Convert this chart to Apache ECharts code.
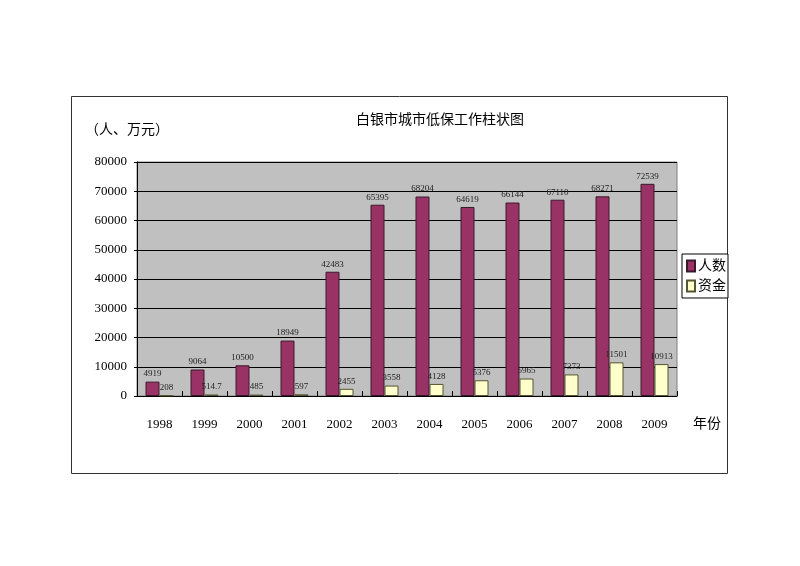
<!DOCTYPE html>
<html><head><meta charset="utf-8">
<script src="https://cdn.jsdelivr.net/npm/echarts@6/dist/echarts.min.js"></script>
<style>html,body{margin:0;padding:0;background:#fff}#c{width:800px;height:566px}</style>
</head><body><div id="c"></div>
<script>
const years = ['1998','1999','2000','2001','2002','2003','2004','2005','2006','2007','2008','2009'];
const people = [4919, 9064, 10500, 18949, 42483, 65395, 68204, 64619, 66144, 67110, 68271, 72539];
const funds = [208, 514.7, 485, 597, 2455, 3558, 4128, 5376, 5965, 7373, 11501, 10913];
const seriesNames = ['人数', '资金'];
const titleText = '白银市城市低保工作柱状图';
const unitText = '（人、万元）';
const xName = '年份';

const FONT = '"Liberation Serif", "Noto Sans CJK SC", serif';
const chart = echarts.init(document.getElementById('c'));
chart.setOption({
  animation: false,
  backgroundColor: '#fff',
  title: {
    text: titleText, left: 435, top: 108, textAlign: 'center',
    textStyle: {fontFamily: FONT, fontSize: 14, fontWeight: 'normal', color: '#000'}
  },
  legend: {
    orient: 'vertical', left: 682, top: 254,
    data: seriesNames, icon: 'rect',
    backgroundColor: '#fff', borderColor: '#000', borderWidth: 1,
    padding: [5, 2, 5, 4], itemGap: 6,
    itemWidth: 8, itemHeight: 11,
    textStyle: {fontFamily: FONT, fontSize: 14, color: '#000', padding: [0, 0, 0, -2]}
  },
  grid: {left: 137, right: 123, top: 162, bottom: 170, show: true,
    backgroundColor: '#C0C0C0', borderColor: '#808080', borderWidth: 1},
  xAxis: {
    type: 'category', data: years,
    axisLine: {lineStyle: {color: '#000', width: 1}},
    axisTick: {show: true, inside: true, length: 5, lineStyle: {color: '#000'}},
    axisLabel: {fontFamily: FONT, fontSize: 13, color: '#000', margin: 22},
  },
  yAxis: {
    type: 'value', min: 0, max: 80000, interval: 10000,
    axisLine: {show: true, lineStyle: {color: '#000'}},
    axisTick: {show: true, length: 3, lineStyle: {color: '#000'}},
    axisLabel: {fontFamily: FONT, fontSize: 13, color: '#000', margin: 10, formatter: v => String(v)},
    splitLine: {lineStyle: {color: '#000', width: 1}}
  },
  series: [
    {name: seriesNames[0], type: 'bar', data: people, barWidth: 14, barGap: '0%',
      itemStyle: {color: '#993366', borderColor: '#3a1a2a', borderWidth: 1},
      label: {show: true, position: 'top', distance: 3, fontFamily: FONT, fontSize: 9, color: '#222'}},
    {name: seriesNames[1], type: 'bar', data: funds, barWidth: 14,
      itemStyle: {color: '#FFFFCC', borderColor: '#555533', borderWidth: 1},
      label: {show: true, position: 'top', distance: 3, fontFamily: FONT, fontSize: 9, color: '#222'}}
  ],
  graphic: [
    {type: 'rect', left: 71, top: 96, z: -10, silent: true,
      shape: {width: 656, height: 377}, style: {fill: '#fff', stroke: '#333', lineWidth: 1}},
    {type: 'text', left: 85, top: 123, style: {text: unitText, fontFamily: FONT, fontSize: 14, fill: '#000'}},
    {type: 'text', left: 693, top: 417, style: {text: xName, fontFamily: FONT, fontSize: 14, fill: '#000'}}
  ]
});
</script></body></html>
